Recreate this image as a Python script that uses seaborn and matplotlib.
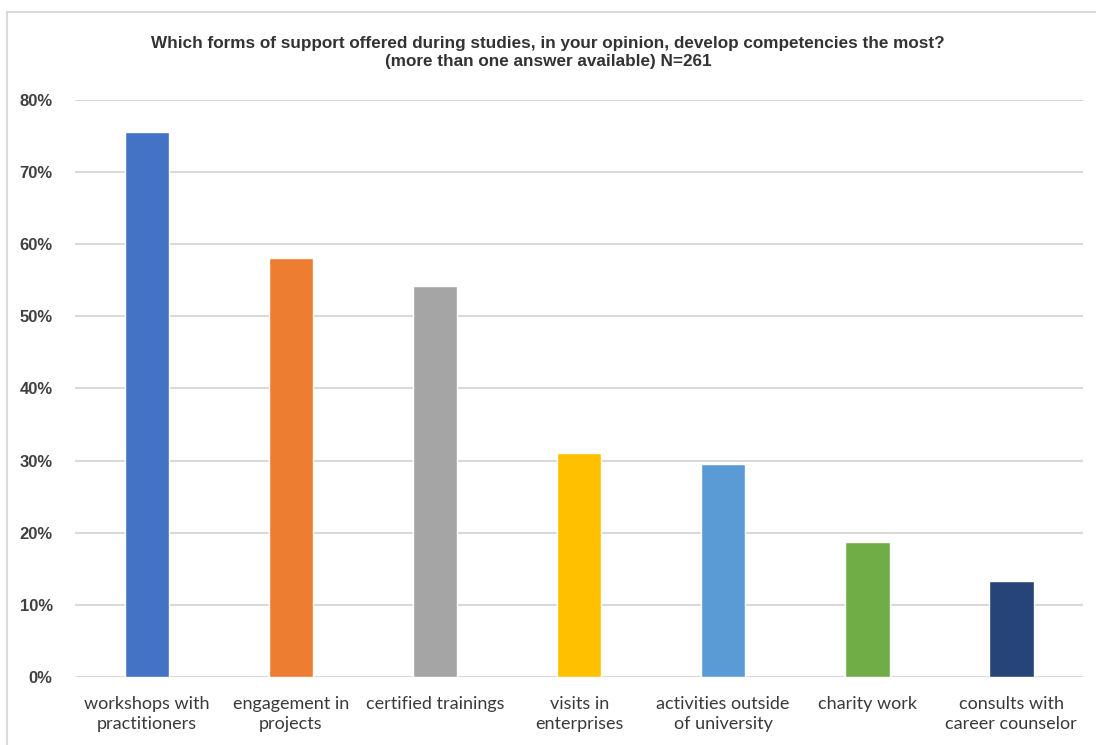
import matplotlib
matplotlib.use("Agg")
import matplotlib.pyplot as plt
import seaborn as sns
from matplotlib.patches import Rectangle

# data
categories = [
    "workshops with\npractitioners",
    "engagement in\nprojects",
    "certified trainings",
    "visits in\nenterprises",
    "activities outside\nof university",
    "charity work",
    "consults with\ncareer counselor",
]
shares = [75.6, 58.1, 54.2, 31.1, 29.5, 18.7, 13.3]
colors = ["#4472C4", "#ED7D31", "#A5A5A5", "#FFC000", "#5B9BD5", "#70AD47", "#264478"]
yticks = [0, 10, 20, 30, 40, 50, 60, 70, 80]

sns.set_style("white")

fig = plt.figure(figsize=(10.96, 7.45), dpi=100)
ax = fig.add_axes([0.0684, 0.0913, 0.92, 0.7745])

sns.barplot(x=categories, y=shares, hue=categories, palette=colors,
            width=0.31, legend=False, ax=ax, saturation=1)

ax.set_ylim(0, 80)
ax.set_xlim(-0.5, len(categories) - 0.5)
ax.set_yticks(yticks)
ax.set_yticklabels([f"{v}%" for v in yticks], fontsize=12, color="#404040",
                   family="Liberation Sans", fontweight="bold")
ax.set_xticks(range(len(categories)))
ax.set_xticklabels(categories, fontsize=13, color="#3a3a3a", family="Lato",
                   linespacing=1.3)
ax.tick_params(axis="x", length=0, pad=14)
ax.tick_params(axis="y", length=0, pad=16)
ax.yaxis.grid(True, color="#d9d9d9", linewidth=1.5)
ax.set_axisbelow(True)
for s in ax.spines.values():
    s.set_visible(False)
ax.set_xlabel("")
ax.set_ylabel("")

fig.text(0.5, 0.93, "Which forms of support offered during studies, in your opinion, develop competencies the most?\n"
         "(more than one answer available) N=261",
         ha="center", va="center", fontsize=12.3, color="#333333",
         family="Liberation Sans", fontweight="bold", linespacing=1.25)

# outer chart border
fig.patches.append(Rectangle((0.006, -0.01), 1.0, 0.994, transform=fig.transFigure,
                             fill=False, edgecolor="#d9d9d9", linewidth=1.5))

fig.savefig("out.png", dpi=100)
